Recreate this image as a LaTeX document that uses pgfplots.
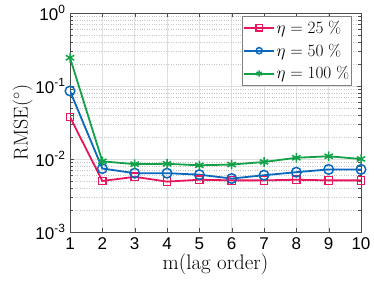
\documentclass[border=0pt]{standalone}
\usepackage{fontspec}
\setsansfont{Liberation Sans}
\usepackage{pgfplots}
\pgfplotsset{compat=1.18}
\definecolor{cred}{RGB}{232,22,92}
\definecolor{cblue}{RGB}{10,104,190}
\definecolor{cgreen}{RGB}{18,160,72}
\begin{document}
\begin{tikzpicture}
\begin{axis}[
  name=ax,
  scale only axis,
  width=291pt, height=219pt,
  ymode=log,
  xmin=1, xmax=10, ymin=1e-3, ymax=1,
  xtick={1,...,10},
  ytick={1e-3,1e-2,1e-1,1},
  yticklabels={10\textsuperscript{-3},10\textsuperscript{-2},10\textsuperscript{-1},10\textsuperscript{0}},
  xticklabels={1,2,3,4,5,6,7,8,9,10},
  xticklabel style={font=\fontsize{17}{17}\selectfont\sffamily, yshift=-2pt},
  yticklabel style={font=\fontsize{17}{17}\selectfont\sffamily, xshift=-1pt},
  grid=both,
  major grid style={gray!25, line width=0.5pt},
  minor grid style={gray!45, dotted, line width=0.5pt},
  axis line style={black!70, line width=0.7pt},
  tick style={black!70},
  tick align=inside,
  xlabel={m(lag order)},
  ylabel={RMSE($^\circ$)},
  xlabel style={font=\fontsize{21}{21}\selectfont, yshift=3pt},
  ylabel style={font=\fontsize{20}{20}\selectfont, yshift=-4pt},
  legend style={at={(0.969,0.986)}, anchor=north east, draw=gray, line width=0.7pt, font=\fontsize{16.5}{16.5}\selectfont, row sep=6pt, inner xsep=1pt, inner ysep=3pt,
    nodes={inner sep=1.5pt}},
  legend cell align=left,
  legend image code/.code={\draw[mark repeat=2, mark phase=2, #1, line width=1.9pt, mark size=3.1pt] plot coordinates {(0pt,0pt) (15pt,0pt) (30pt,0pt)};},
]
\addplot[cred, line width=1.8pt, mark=square, mark size=3.8pt, mark options={line width=1.3pt}] coordinates {
(1,0.0376) (2,0.0050) (3,0.0057) (4,0.0049) (5,0.0052) (6,0.0051) (7,0.0051) (8,0.0052) (9,0.0051) (10,0.0051)};
\addlegendentry{$\eta = 25~\%$}
\addplot[cblue, line width=1.8pt, mark=o, mark size=4.8pt, mark options={line width=1.5pt}] coordinates {
(1,0.0855) (2,0.0074) (3,0.0064) (4,0.0064) (5,0.0061) (6,0.0054) (7,0.0060) (8,0.0066) (9,0.0072) (10,0.0072)};
\addlegendentry{$\eta = 50~\%$}
\addplot[cgreen, line width=1.8pt, mark=asterisk, mark size=4.8pt, mark options={line width=1.5pt}] coordinates {
(1,0.244) (2,0.0093) (3,0.0085) (4,0.0086) (5,0.0082) (6,0.0084) (7,0.0091) (8,0.0104) (9,0.0109) (10,0.0100)};
\addlegendentry{$\eta = 100~\%$}
\end{axis}
\pgfresetboundingbox
\path[use as bounding box] ([xshift=-70pt,yshift=-57pt]ax.south west) rectangle ([xshift=13pt,yshift=13pt]ax.north east);
\end{tikzpicture}
\end{document}
